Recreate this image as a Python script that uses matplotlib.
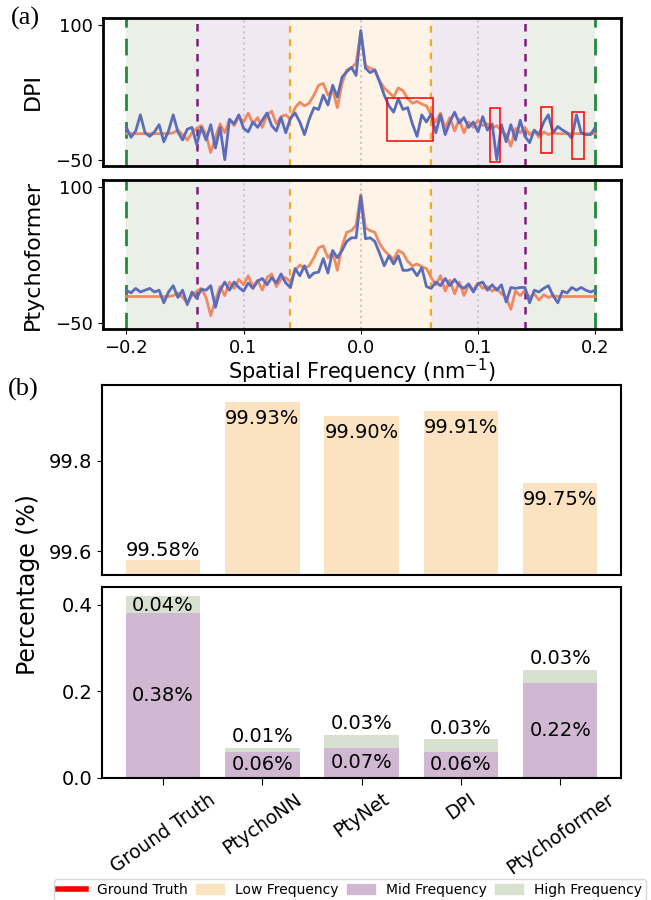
import numpy as np
import matplotlib
matplotlib.use("Agg")
import matplotlib.pyplot as plt
from matplotlib.patches import Rectangle, Patch
from matplotlib.lines import Line2D

# frecuencias espaciales (nm^-1)
freq = np.linspace(-0.2, 0.2, 101)

ground_truth = [-21, -21, -21, -21, -21, -21, -21, -21, -21, -21,
                -20, -17, -22, -28, -20, -15, -12, -22, -42, -25,
                -10, -20, -5, -12, -2, -8, 2, -10, -3, -14,
                0, 4, -10, -2, 0, -5, 8, 14, 10, 13,
                22, 33, 35, 22, 28, 8, 35, 50, 52, 58,
                92,
                55, 52, 50, 38, 30, 25, 20, 30, 27, 18,
                13, 15, 12, 10, 0, -8, 2, -15, -3, -18,
                -5, -20, -8, -14, -6, -12, -10, -15, -12, -18,
                -22, -35, -15, -20, -14, -22, -18, -25, -19, -22,
                -20, -21, -21, -21, -21, -21, -21, -21, -21, -21]

dpi_curve = [-14, -25, -18, 0, -20, -24, -19, -11, -30, -18,
             0, -19, -28, -16, -14, -33, -14, -28, -11, -37,
             -14, -50, -5, -10, 0, -15, -19, -8, -14, -6,
             2, -12, -18, -3, -20, -4, 2, -8, -22, -5,
             8, 6, 22, 11, 33, 20, 42, 48, 53, 44,
             94,
             52, 47, 50, 37, 22, 10, 3, 18, 6, 8,
             -10, -24, 0, -8, 1, -20, 0, -22, -8, 3,
             -9, -3, -14, -8, -19, -2, -17, -10, -50, -11,
             -30, -11, -28, -6, -24, -31, -17, -22, -8, 0,
             -20, -13, -17, -20, -26, 0, -20, -22, -22, -14]

ptychoformer_curve = [-14, -17, -12, -16, -14, -12, -16, -14, -28, -16,
                      -9, -22, -14, -30, -16, -23, -13, -14, -9, -33,
                      -14, -5, -14, -5, -11, -15, -6, -12, -4, -1,
                      -8, 0, -6, 4, -6, -11, 10, 2, 13, 0,
                      5, 6, 21, 5, 30, 22, 30, 40, 44, 44,
                      90,
                      43, 44, 40, 27, 13, 24, 15, 24, 8, 8,
                      10, 2, 11, -10, -12, -5, -9, -1, -9, -2,
                      -9, -12, -7, -16, -7, -5, -14, -8, -14, -8,
                      -27, -11, -12, -11, -11, -28, -14, -16, -12, -9,
                      -20, -28, -15, -17, -11, -14, -11, -14, -16, -14]

metodos = ["Ground Truth", "PtychoNN", "PtyNet", "DPI", "Ptychoformer"]
baja = [99.58, 99.93, 99.90, 99.91, 99.75]
media = [0.38, 0.06, 0.07, 0.06, 0.22]
alta = [0.04, 0.01, 0.03, 0.03, 0.03]

# recuadros rojos en DPI: (f0, f1, v0, v1)
cajas_dpi = [(0.022, 0.062, -29, 19), (0.110, 0.119, -53, 8),
             (0.154, 0.163, -43, 9), (0.180, 0.190, -49, 3)]

c_baja = "#fbe3c1"
c_media = "#d0b8d2"
c_alta = "#d8e0d0"
c_gt = "#f0845a"
c_pred = "#5b6cb8"

fig = plt.figure(figsize=(6.51, 9.0), dpi=100)
ax1 = fig.add_axes([0.158, 0.8156, 0.796, 0.1644])
ax2 = fig.add_axes([0.158, 0.6344, 0.796, 0.1656])
ax3 = fig.add_axes([0.157, 0.3611, 0.797, 0.2111])
ax4 = fig.add_axes([0.157, 0.1356, 0.797, 0.2122])


def panel_frecuencia(ax, pred, nombre):
    ax.axvspan(-0.2, -0.14, color=c_alta, alpha=0.5, lw=0)
    ax.axvspan(0.14, 0.2, color=c_alta, alpha=0.5, lw=0)
    ax.axvspan(-0.14, -0.06, color=c_media, alpha=0.3, lw=0)
    ax.axvspan(0.06, 0.14, color=c_media, alpha=0.3, lw=0)
    ax.axvspan(-0.06, 0.06, color=c_baja, alpha=0.4, lw=0)
    for f in [-0.1, 0.0, 0.1]:
        ax.axvline(f, color="#c8c8c8", ls=":", lw=1.5)
    for f in [-0.06, 0.06]:
        ax.axvline(f, color="#f5a623", ls=(0, (3, 3)), lw=1.6)
    for f in [-0.14, 0.14]:
        ax.axvline(f, color="#7b1f7b", ls=(0, (3, 3)), lw=1.8)
    for f in [-0.2, 0.2]:
        ax.axvline(f, color="#228b3a", ls=(0, (6, 4)), lw=2)
    ax.plot(freq, ground_truth, color=c_gt, lw=2, alpha=0.95)
    ax.plot(freq, pred, color=c_pred, lw=2)
    ax.set_xlim(-0.22, 0.222)
    ax.set_ylim(-57, 108)
    ax.set_yticks([-50, 100])
    ax.set_yticklabels(["\u221250", "100"])
    ax.tick_params(labelsize=13)
    ax.set_ylabel(nombre, fontsize=16)
    ax.yaxis.set_label_coords(-0.115, 0.5)
    for s in ax.spines.values():
        s.set_linewidth(2)


panel_frecuencia(ax1, dpi_curve, "DPI")
panel_frecuencia(ax2, ptychoformer_curve, "Ptychoformer")
ax1.tick_params(bottom=False, labelbottom=False)
ax2.set_xticks([-0.2, -0.1, 0.0, 0.1, 0.2])
ax2.set_xticklabels(["\u22120.2", "0.1", "0.0", "0.1", "0.2"])
ax2.set_xlabel("Spatial Frequency (nm$^{-1}$)", fontsize=15, labelpad=0)

for f0, f1, v0, v1 in cajas_dpi:
    ax1.add_patch(Rectangle((f0, v0), f1 - f0, v1 - v0, fill=False,
                            edgecolor="red", lw=1.1, zorder=5))

# barras
x = np.arange(len(metodos))
ax3.bar(x, baja, width=0.75, color=c_baja)
ax3.set_ylim(99.547, 99.968)
ax3.set_yticks([99.6, 99.8])
ax3.set_xticks(x)
ax3.tick_params(bottom=False, labelbottom=False, labelsize=14)
for i, v in enumerate(baja):
    if v - 99.547 < 0.06:
        ax3.text(x[i], v, f"{v:.2f}%", ha="center", va="bottom", fontsize=14)
    else:
        ax3.annotate(f"{v:.2f}%", (x[i], v), xytext=(0, -5), textcoords="offset points",
                     ha="center", va="top", fontsize=14)

ax4.bar(x, media, width=0.75, color=c_media)
ax4.bar(x, alta, width=0.75, bottom=media, color=c_alta)
ax4.set_yticks([0.0, 0.2, 0.4])
ax4.set_xticks(x)
ax4.set_xticklabels(metodos, rotation=35, ha="center")
ax4.tick_params(labelsize=14)
ax4.tick_params(axis="x", labelsize=13.5, length=5)
top4 = ax4.get_ylim()[1]
for i in range(len(metodos)):
    total = media[i] + alta[i]
    ax4.text(x[i], media[i] / 2, f"{media[i]:.2f}%", ha="center", va="center", fontsize=14)
    if total > 0.9 * top4:
        ax4.text(x[i], total, f"{alta[i]:.2f}%", ha="center", va="top", fontsize=14)
    else:
        ax4.text(x[i], total + 0.003, f"{alta[i]:.2f}%", ha="center", va="bottom", fontsize=14)

for ax in [ax3, ax4]:
    for s in ax.spines.values():
        s.set_linewidth(1.5)

fig.text(0.043, 0.35, "Percentage (%)", rotation=90, ha="center", va="center", fontsize=17)
fig.text(0.016, 0.992, "(a)", family="Liberation Serif", fontsize=19, va="top")
fig.text(0.012, 0.580, "(b)", family="Liberation Serif", fontsize=19, va="top")

handles = [Line2D([0], [0], color="red", lw=4),
           Patch(color=c_baja), Patch(color=c_media), Patch(color=c_alta)]
fig.legend(handles, ["Ground Truth", "Low Frequency", "Mid Frequency", "High Frequency"],
           loc="center", bbox_to_anchor=(0.5376, 0.011), ncol=4, fontsize=10,
           columnspacing=0.6, handletextpad=0.8, borderpad=0.3)

fig.savefig("out.png", dpi=100)
